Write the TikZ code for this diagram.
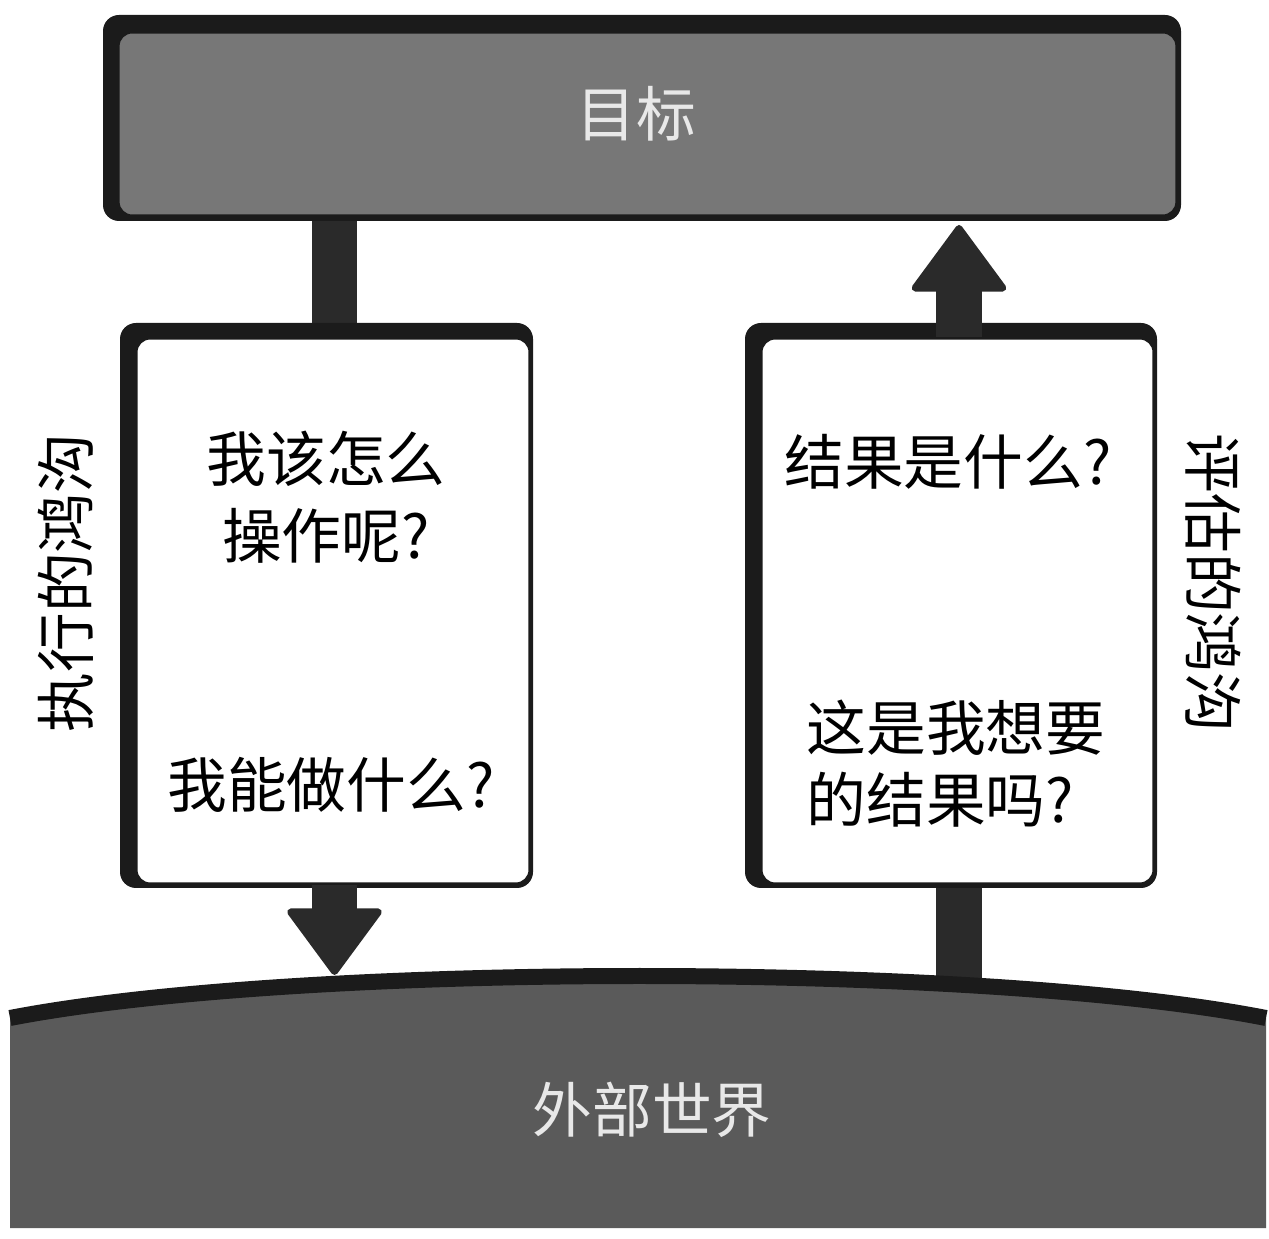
\documentclass[tikz,border=0pt]{standalone}
\usepackage{fontspec}
\newfontfamily\cjk{Noto Sans CJK SC}
\usetikzlibrary{arrows.meta,calc,backgrounds}
\definecolor{frame}{HTML}{1B1B1B}
\definecolor{goalgray}{HTML}{777777}
\definecolor{worldgray}{HTML}{5A5A5A}
\definecolor{shaftc}{HTML}{2A2A2A}
\definecolor{lighttext}{HTML}{E8E8E8}

\begin{document}
\begin{tikzpicture}[x=0.02cm,y=-0.02cm,
  cjktext/.style={font=\cjk\fontsize{34}{44}\selectfont, inner sep=0pt},
  panel/.style={draw=frame, line width=0.06cm, rounded corners=0.28cm, inner sep=0pt},
  shadowpanel/.style={fill=frame, rounded corners=0.32cm},
  shaftline/.style={draw=shaftc, line width=0.92cm},
  fatarrow/.style={shaftline, -{Triangle[width=2.0cm,length=1.38cm,line width=4pt,round]}}
]
\useasboundingbox (0,0) rectangle (1269,1239);

% dark offset frames behind the three panels
\fill[shadowpanel] (103,15) rectangle (1181,221);
\fill[shadowpanel] (120,323) rectangle (533,888);
\fill[shadowpanel] (745,323) rectangle (1157,888);

% goal panel
\node[panel, fill=goalgray, minimum width=21.18cm, minimum height=3.68cm] (goal) at (647.5,124) {};
\node[cjktext, text=lighttext] (goaltxt) at (636,114) {目标};

% action and result panels
\node[panel, fill=white, minimum width=7.88cm, minimum height=10.92cm] (lbox) at (333,611) {};
\node[panel, fill=white, minimum width=7.86cm, minimum height=10.92cm] (rbox) at (957.5,611) {};

\node[cjktext, align=center] (q1) at (326,497) {我该怎么\\操作呢?};
\node[cjktext] (q2) at (331,785) {我能做什么?};
\node[cjktext] (q3) at (948,462) {结果是什么?};
\node[cjktext, align=left, font=\cjk\fontsize{34}{41}\selectfont] (q4) at (956,764) {这是我想要\\的结果吗?};

% gulf labels on both sides
\node[cjktext, rotate=90] (gexec) at (66,583) {执行的鸿沟};
\node[cjktext, rotate=-90] (geval) at (1213,583) {评估的鸿沟};

% outside world: curved ground
\fill[worldgray] (10,1018) .. controls (300,962) and (980,962) .. (1266,1018)
  -- (1266,1228) -- (10,1228) -- cycle;
\draw[frame, line width=0.32cm] (10,1018) .. controls (300,962) and (980,962) .. (1266,1018);
\node[cjktext, text=lighttext] (world) at (652,1110) {外部世界};

% anchor columns for the connectors
\coordinate (lx) at (334.5,0);
\coordinate (rx) at (959,0);
\coordinate (ltip) at (334.5,975);
\coordinate (rtip) at (959,225);
\coordinate (rground) at (959,995);

\begin{scope}[on background layer]
  \fill[white] (0,0) rectangle (1269,1239);
  \draw[shaftline] (goal.south -| lx) -- (lbox.north -| lx);
  \draw[shaftline] (rground) -- (rbox.south -| rx);
\end{scope}

\draw[fatarrow] (lbox.south -| lx) -- (ltip);
\draw[fatarrow] (rbox.north -| rx) -- (rtip);
\end{tikzpicture}
\end{document}
